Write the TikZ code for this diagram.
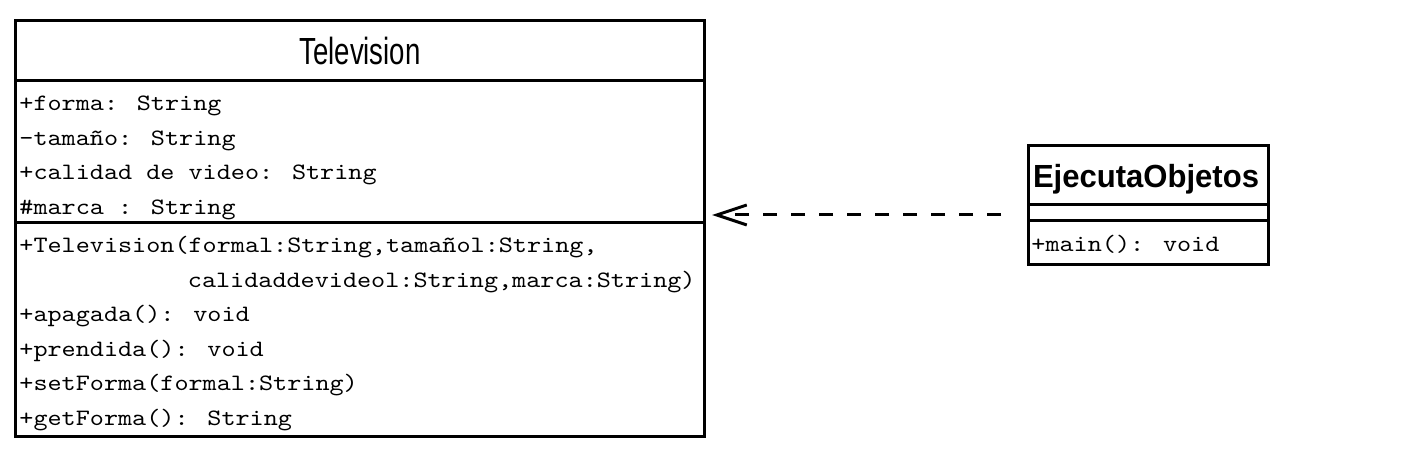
\documentclass[tikz,border=0pt]{standalone}
\usepackage{fontspec}
\usetikzlibrary{arrows.meta}
\newfontfamily\tvtitlefont[FakeStretch=0.73]{Liberation Sans}
\newfontfamily\ejtitlefont[FakeStretch=0.97]{Liberation Sans}
\newfontfamily\umlmono[Extension=.otf,FakeStretch=1.143]{lmmono10-regular}
\tikzset{
  umlframe/.style={draw, line width=1.5pt, inner sep=0pt, outer sep=0pt},
  umlrule/.style={line width=1.5pt},
  member/.style={anchor=base west, inner sep=0pt, font=\umlmono\fontsize{11.75}{14}\selectfont},
  tvtitle/.style={anchor=base, inner sep=0pt, font=\tvtitlefont\fontsize{18.9}{22}\selectfont},
  ejtitle/.style={anchor=base, inner sep=0pt, font=\ejtitlefont\bfseries\fontsize{16}{19}\selectfont},
  dep/.style={line width=1.5pt, dash pattern=on 7pt off 7pt,
    -{Straight Barb[length=15pt,width=10pt]}, shorten <=13.5pt, shorten >=4pt}
}
\begin{document}
\begin{tikzpicture}[x=0.5pt,y=-0.5pt]
\useasboundingbox (0,0) rectangle (1427,453);
% Television class
\node[umlframe, minimum width=344.5pt, minimum height=207.5pt] (tv) at (359.5,228.5) {};
\coordinate (tvd1) at (0,81);
\coordinate (tvd2) at (0,223);
\draw[umlrule] (tv.west |- tvd1) -- (tv.east |- tvd1);
\draw[umlrule] (tv.west |- tvd2) -- (tv.east |- tvd2);
\node[tvtitle] (tvname) at (360,65) {Television};
\node[member] (a1) at (19,111) {+forma: String};
\node[member] (a2) at (19,145.5) {-tamaño: String};
\node[member] (a3) at (19,180) {+calidad de video: String};
\node[member] (a4) at (19,214.5) {\#marca : String};
\node[member] (m1) at (19,253) {+Television(formal:String,tamañol:String,};
\node[member] (m1b) at (187.5,287.5) {calidaddevideol:String,marca:String)};
\node[member] (m2) at (19,322) {+apagada(): void};
\node[member] (m3) at (19,356.5) {+prendida(): void};
\node[member] (m4) at (19,391) {+setForma(formal:String)};
\node[member] (m5) at (19,425.5) {+getForma(): String};
% EjecutaObjetos class
\node[umlframe, minimum width=120pt, minimum height=59.5pt] (ej) at (1148,205.5) {};
\coordinate (ejd1) at (0,205);
\coordinate (ejd2) at (0,221);
\draw[umlrule] (ej.west |- ejd1) -- (ej.east |- ejd1);
\draw[umlrule] (ej.west |- ejd2) -- (ej.east |- ejd2);
\node[ejtitle] (ejname) at (1146,188) {EjecutaObjetos};
\node[member] (ejm1) at (1031,252) {+main(): void};
% dependency
\coordinate (ay) at (0,215);
\draw[dep] (ej.west |- ay) -- (tv.east |- ay);
\end{tikzpicture}
\end{document}
